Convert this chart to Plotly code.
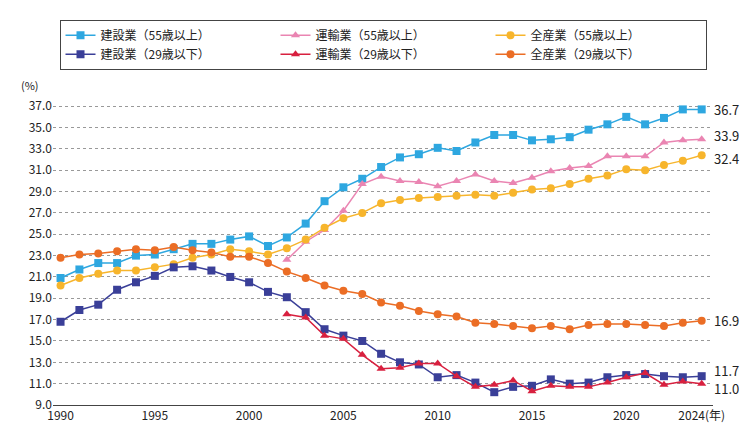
import plotly.graph_objects as go

years = list(range(1990, 2025))
years_tr = list(range(2002, 2025))

const_55 = [20.9, 21.7, 22.3, 22.3, 23.0, 23.1, 23.6, 24.1, 24.1, 24.5, 24.8, 23.9, 24.7, 26.0, 28.1, 29.4, 30.2, 31.3,
            32.2, 32.5, 33.1, 32.8, 33.6, 34.3, 34.3, 33.8, 33.9, 34.1, 34.8, 35.3, 36.0, 35.3, 35.9, 36.7, 36.7]
trans_55 = [22.6, 24.3, 25.4, 27.2, 29.7, 30.4, 30.0, 29.9, 29.5, 30.0, 30.6, 30.0, 29.8, 30.3, 30.9, 31.2, 31.4,
            32.3, 32.3, 32.3, 33.6, 33.8, 33.9]
all_55 = [20.2, 20.9, 21.3, 21.6, 21.6, 21.9, 22.2, 22.8, 23.1, 23.6, 23.4, 23.1, 23.7, 24.5, 25.6, 26.5, 27.0, 27.9,
          28.2, 28.4, 28.5, 28.6, 28.7, 28.6, 28.9, 29.2, 29.3, 29.7, 30.2, 30.5, 31.1, 31.0, 31.5, 31.9, 32.4]
const_29 = [16.8, 17.9, 18.4, 19.8, 20.5, 21.1, 21.9, 22.0, 21.6, 21.0, 20.5, 19.6, 19.1, 17.7, 16.1, 15.5, 15.0, 13.8,
            13.0, 12.8, 11.6, 11.8, 11.1, 10.2, 10.7, 10.8, 11.4, 11.0, 11.1, 11.6, 11.8, 11.9, 11.7, 11.6, 11.7]
trans_29 = [17.5, 17.2, 15.5, 15.2, 13.7, 12.4, 12.5, 12.9, 12.9, 11.7, 10.7, 10.9, 11.3, 10.3, 10.8, 10.7, 10.7,
            11.1, 11.6, 12.0, 10.9, 11.2, 11.0]
all_29 = [22.8, 23.1, 23.2, 23.4, 23.6, 23.5, 23.8, 23.5, 23.3, 22.9, 22.9, 22.3, 21.5, 20.9, 20.2, 19.7, 19.4, 18.6,
          18.3, 17.8, 17.5, 17.3, 16.7, 16.6, 16.4, 16.2, 16.4, 16.1, 16.5, 16.6, 16.6, 16.5, 16.4, 16.7, 16.9]

series = [
    ("建設業（55歳以上）", years, const_55, "#2ea7e0", "square", 8),
    ("運輸業（55歳以上）", years_tr, trans_55, "#ea85b2", "triangle-up", 8),
    ("全産業（55歳以上）", years, all_55, "#f7b52c", "circle", 8),
    ("建設業（29歳以下）", years, const_29, "#3a3f98", "square", 8),
    ("運輸業（29歳以下）", years_tr, trans_29, "#d8203f", "triangle-up", 8),
    ("全産業（29歳以下）", years, all_29, "#eb6d25", "circle", 8),
]

font = "Noto Sans CJK JP"
fig = go.Figure()
for name, x, y, col, sym, sz in series:
    fig.add_trace(go.Scatter(x=x, y=y, name=name, mode="lines+markers",
                             line=dict(color=col, width=1.5),
                             marker=dict(symbol=sym, size=sz, color=col)))

# end labels (small vertical nudges so close values don't collide)
end_vals = [(const_55[-1], 0), (trans_55[-1], 0.35), (all_55[-1], -0.3), (all_29[-1], 0),
            (const_29[-1], 0.5), (trans_29[-1], -0.5)]
for v, off in end_vals:
    fig.add_annotation(x=2024, y=v + off, text=f"{v:.1f}", showarrow=False, xanchor="left", xshift=10,
                       font=dict(size=13, color="#222"))

fig.add_annotation(x=0, y=1.0, xref="paper", yref="paper", text="(%)", showarrow=False,
                   xanchor="right", yanchor="bottom", yshift=8, xshift=-12, font=dict(size=11, color="#222"))

fig.update_layout(
    width=750, height=427,
    margin=dict(l=45, r=45, t=88, b=22),
    paper_bgcolor="white", plot_bgcolor="white",
    font=dict(family=font, size=12, color="#222"),
    legend=dict(orientation="h", x=0.5, xanchor="center", y=1.11, yanchor="bottom",
                entrywidth=170, bordercolor="#444", borderwidth=1, font=dict(size=12)),
    xaxis=dict(range=[1989.6, 2024.6], tickvals=[1990, 1995, 2000, 2005, 2010, 2015, 2020, 2024],
               ticktext=["1990", "1995", "2000", "2005", "2010", "2015", "2020", "2024(年)"],
               showgrid=False, showline=True, linecolor="#444", ticks="", tickfont=dict(size=12)),
    yaxis=dict(range=[9, 37.3], tickvals=[9 + 2 * i for i in range(15)], tickformat=".1f",
               showgrid=True, gridcolor="#999", griddash="dot", zeroline=False, tickfont=dict(size=12)),
)
fig.write_html("out.html")
